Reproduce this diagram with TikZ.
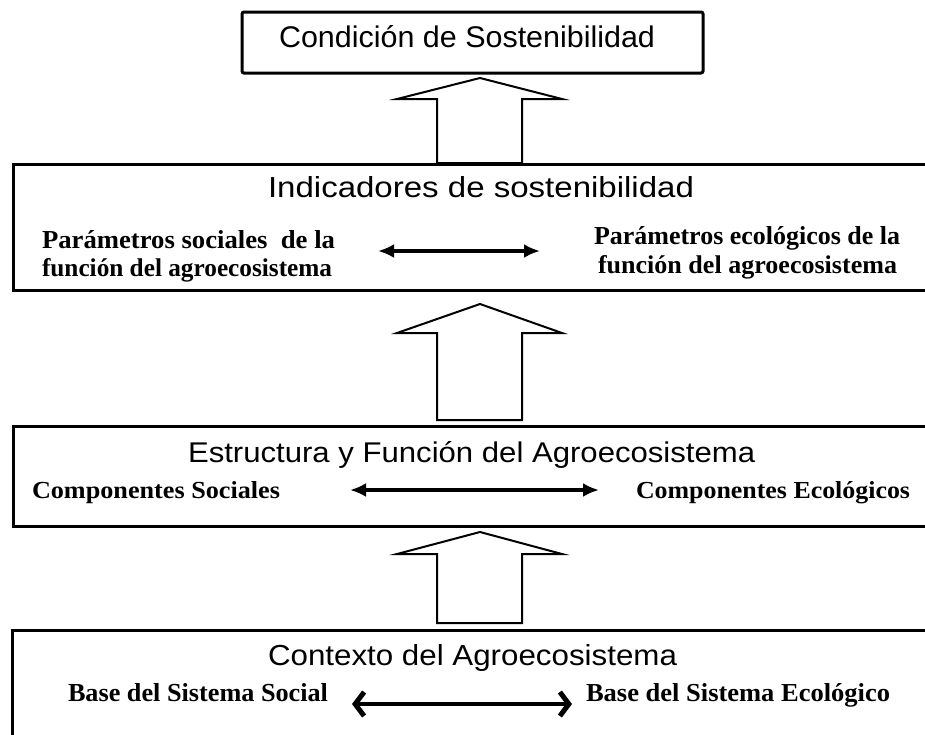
\documentclass[tikz,border=0pt]{standalone}
\usepackage{fontspec}
\setmainfont{Liberation Serif}
\newfontfamily\titlefont{Liberation Sans}
\usetikzlibrary{arrows.meta}
\newcommand\fitbox[3]{\resizebox{#1pt}{#2pt}{#3}}
\tikzset{
  box/.style={draw, line width=3pt, inner sep=0pt, outer sep=0pt},
  blockarrow/.style={draw, line width=2pt, fill=white, line join=miter},
  txt/.style={anchor=base west, inner sep=0pt, outer sep=0pt},
  link/.style={line width=4pt, {Latex[length=16pt,width=14pt]}-{Latex[length=16pt,width=14pt]}},
  linkb/.style={line width=4pt, {Straight Barb[length=9pt,width=24pt,line width=5pt]}-{Straight Barb[length=9pt,width=24pt,line width=5pt]}},
}
\begin{document}
\begin{tikzpicture}[x=1pt,y=-1pt]
\clip (0,0) rectangle (925,734);
\fill[white] (0,0) rectangle (925,734);

% boxes
\node[box, minimum width=461pt, minimum height=61pt, rounded corners=2pt] (b1) at (472.5,42.5) {};
\node[box, minimum width=922pt, minimum height=126pt] (b2) at (474,227) {};
\node[box, minimum width=922pt, minimum height=100pt] (b3) at (474,476) {};
\node[box, minimum width=923pt, minimum height=115pt] (b4) at (473.5,687.5) {};

% block arrows
\draw[blockarrow] (480,78) -- (562,99) -- (522,99) -- (522,163) -- (437,163) -- (437,99) -- (397,99) -- cycle;
\draw[blockarrow] (480,304) -- (562,333) -- (522,333) -- (522,420) -- (437,420) -- (437,333) -- (397,333) -- cycle;
\draw[blockarrow] (480,532) -- (562,554) -- (522,554) -- (522,623) -- (437,623) -- (437,554) -- (397,554) -- cycle;

% titles
\node[txt] (t1) at (279,47) {\fitbox{376}{22}{\titlefont Condición de Sostenibilidad}};
\node[txt] (t2) at (268,197) {\fitbox{426}{21}{\titlefont Indicadores de sostenibilidad}};
\node[txt] (t3) at (188,462) {\fitbox{567}{21}{\titlefont Estructura y Función del Agroecosistema}};
\node[txt] (t4) at (268,665) {\fitbox{409}{21}{\titlefont Contexto del Agroecosistema}};

% box 2 texts
\node[txt] (p1) at (42,248) {\fitbox{293}{18}{\bfseries Parámetros sociales~ de la}};
\node[txt] (p2) at (42,276) {\fitbox{290}{18}{\bfseries función del agroecosistema}};
\node[txt] (q1) at (594,244) {\fitbox{306}{18}{\bfseries Parámetros ecológicos de la}};
\node[txt] (q2) at (598,273) {\fitbox{299}{18}{\bfseries función del agroecosistema}};
\coordinate (a1l) at (378,251);
\coordinate (a1r) at (540,251);
\draw[link] (a1l) -- (a1r);

% box 3 texts
\node[txt] (c1) at (32,498) {\fitbox{248}{17}{\bfseries Componentes Sociales}};
\node[txt] (c2) at (636,498) {\fitbox{274}{17}{\bfseries Componentes Ecológicos}};
\coordinate (a2l) at (350,490);
\coordinate (a2r) at (599,490);
\draw[link] (a2l) -- (a2r);

% box 4 texts
\node[txt] (d1) at (68,701) {\fitbox{260}{18}{\bfseries Base del Sistema Social}};
\node[txt] (d2) at (586,701) {\fitbox{304}{18}{\bfseries Base del Sistema Ecológico}};
\coordinate (a3l) at (352,704);
\coordinate (a3r) at (572,704);
\draw[linkb] (a3l) -- (a3r);
\end{tikzpicture}
\end{document}
